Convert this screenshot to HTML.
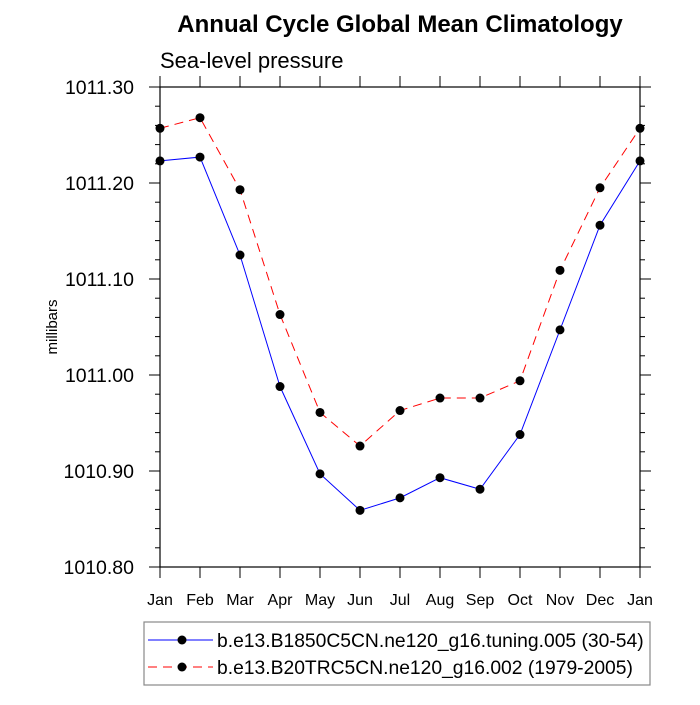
<!DOCTYPE html>
<html><head><meta charset="utf-8"><style>
body{margin:0;background:#fff}
svg text{font-family:"Liberation Sans",Arial,sans-serif}
</style></head><body>
<svg width="700" height="700" xmlns="http://www.w3.org/2000/svg">
<text x="400" y="32" font-size="24" font-weight="bold" text-anchor="middle">Annual Cycle Global Mean Climatology</text>
<text x="160" y="68" font-size="22">Sea-level pressure</text>
<text transform="translate(57,327) rotate(-90)" font-size="15" text-anchor="middle">millibars</text>
<g id="axes"></g>
<g id="series"></g>
<rect x="144" y="622" width="506" height="63" fill="none" stroke="#888" stroke-width="1.2"/>
<g>
<line x1="148" y1="640" x2="213" y2="640" stroke="#00f" stroke-width="1"/>
<circle cx="182" cy="640" r="4.5" fill="#000"/>
<text x="217" y="647" font-size="19.3">b.e13.B1850C5CN.ne120_g16.tuning.005 (30-54)</text>
</g>
<g>
<line x1="148" y1="667" x2="213" y2="667" stroke="#f00" stroke-width="1" stroke-dasharray="9,6"/>
<circle cx="182" cy="667" r="4.5" fill="#000"/>
<text x="217" y="674" font-size="19.3">b.e13.B20TRC5CN.ne120_g16.002 (1979-2005)</text>
</g>
</svg>
<script>
const months=["Jan","Feb","Mar","Apr","May","Jun","Jul","Aug","Sep","Oct","Nov","Dec","Jan"];
const blueValues=[1011.223,1011.227,1011.125,1010.988,1010.897,1010.859,1010.872,1010.893,1010.881,1010.938,1011.047,1011.156,1011.223];
const redValues=[1011.257,1011.268,1011.193,1011.063,1010.961,1010.926,1010.963,1010.976,1010.976,1010.994,1011.109,1011.195,1011.257];
const yTicks=[1010.80,1010.90,1011.00,1011.10,1011.20,1011.30];
const X0=160,X1=640,Y0=567,Y1=87,ymin=1010.8,ymax=1011.3;
const xs=i=>X0+i*(X1-X0)/(months.length-1);
const ys=v=>Y0-(v-ymin)/(ymax-ymin)*(Y0-Y1);
const NS="http://www.w3.org/2000/svg";
function mk(tag,attrs,parent){const e=document.createElementNS(NS,tag);for(const k in attrs)e.setAttribute(k,attrs[k]);parent.appendChild(e);return e;}
const ax=document.getElementById('axes');
const frame=mk('rect',{x:X0,y:Y1,width:X1-X0,height:Y0-Y1,fill:'none',stroke:'#000','stroke-width':1.2},ax);


months.forEach((m,i)=>{
  const x=xs(i);
  mk('line',{x1:x,y1:Y0,x2:x,y2:Y0+11,stroke:'#000'},ax);
  mk('line',{x1:x,y1:Y1,x2:x,y2:Y1-11,stroke:'#000'},ax);
  const t=mk('text',{x:x,y:Y0+38,'font-size':16,'text-anchor':'middle'},ax);
  t.textContent=m;
  
  
});
for(let k=0;k<=25;k++){
  const v=ymin+k*0.02;const y=ys(v);const major=k%5===0;const L=major?11:5;
  mk('line',{x1:X0-L,y1:y,x2:X0,y2:y,stroke:'#000'},ax);
  mk('line',{x1:X1,y1:y,x2:X1+L,y2:y,stroke:'#000'},ax);
}
yTicks.forEach(v=>{
  const t=mk('text',{x:X0-26,y:ys(v)+7,'font-size':19.5,'text-anchor':'end'},ax);
  t.textContent=v.toFixed(2);
  
  
});
const sg=document.getElementById('series');
function draw(vals,color,dash,name){
  const g=mk('g',{},sg);
  
  
  mk('polyline',{points:vals.map((v,i)=>xs(i)+','+ys(v)).join(' '),fill:'none',stroke:color,'stroke-width':1,'stroke-dasharray':dash},g);
  vals.forEach((v,i)=>{const c=mk('circle',{cx:xs(i),cy:ys(v),r:4.5,fill:'#000'},g);
    
    });
}
draw(blueValues,'#00f','none','series-b1850');
draw(redValues,'#f00','9,6','series-b20tr');
</script>
</body></html>
